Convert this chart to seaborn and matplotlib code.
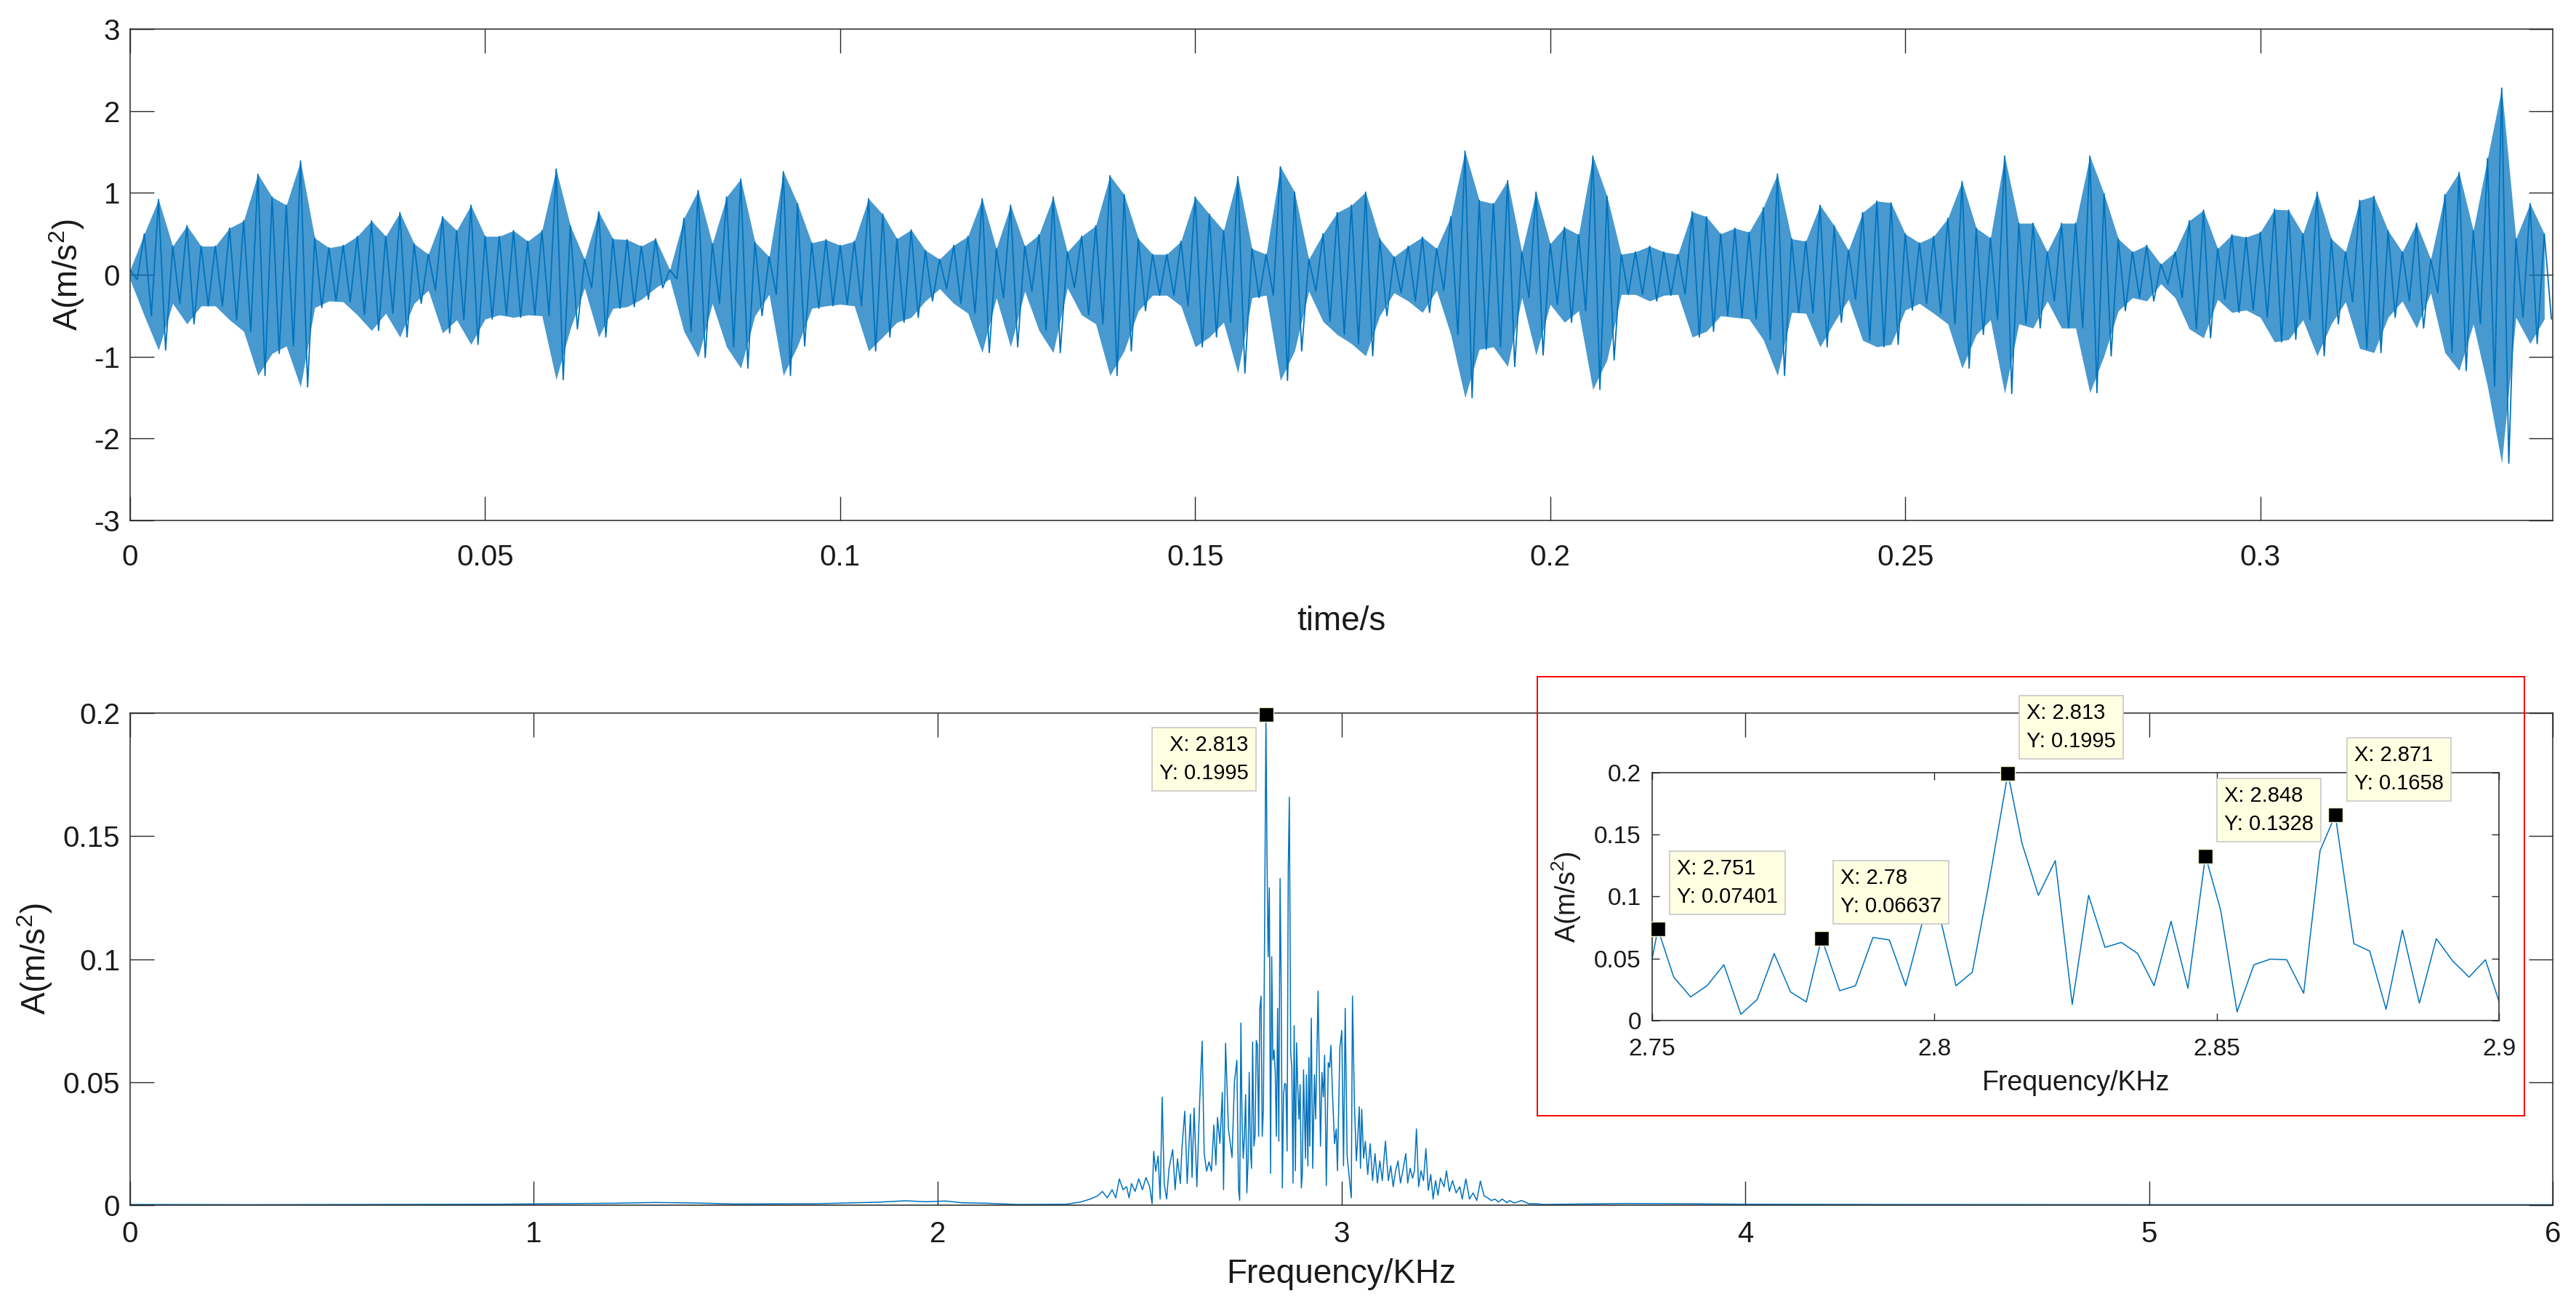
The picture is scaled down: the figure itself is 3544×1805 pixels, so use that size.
import numpy as np
import matplotlib
matplotlib.use('Agg')
import matplotlib.pyplot as plt
from matplotlib.patches import Rectangle
from matplotlib.ticker import FuncFormatter
import seaborn as sns

# ---- time signal: burst envelope read every 2 ms (upper and lower extremes, m/s^2)
time_s = np.arange(171) * 0.002
accel_upper = [
    0.06, 0.5, 0.92, 0.35, 0.6, 0.35, 0.35, 0.57, 0.66, 1.23, 0.95, 0.85, 1.39, 0.45, 0.33,
    0.36, 0.47, 0.66, 0.47, 0.76, 0.38, 0.25, 0.71, 0.54, 0.85, 0.47, 0.47, 0.54, 0.41, 0.54,
    1.29, 0.6, 0.19, 0.77, 0.44, 0.43, 0.35, 0.44, 0.06, 0.69, 1.03, 0.38, 0.95,
    1.17, 0.4, 0.22, 1.26, 0.87, 0.39, 0.43, 0.36, 0.41, 0.93, 0.74, 0.44, 0.55, 0.3, 0.19,
    0.36, 0.47, 0.93, 0.32, 0.85, 0.35, 0.49, 0.95, 0.28, 0.47, 0.6, 1.21, 0.98, 0.44, 0.25,
    0.25, 0.41, 0.95, 0.74, 0.54, 1.2, 0.32, 0.25, 1.32, 1.01, 0.19, 0.5, 0.76,
    0.85, 1.01, 0.44, 0.22, 0.35, 0.46, 0.32, 0.71, 1.51, 0.91, 0.87, 1.15, 0.28, 1.01, 0.38,
    0.58, 0.49, 1.45, 0.96, 0.25, 0.28, 0.35, 0.28, 0.25, 0.77, 0.71, 0.5, 0.57, 0.52, 0.82,
    1.23, 0.44, 0.41, 0.85, 0.6, 0.3, 0.76, 0.9, 0.88, 0.5, 0.39, 0.47, 0.69,
    1.14, 0.57, 0.45, 1.45, 0.63, 0.63, 0.28, 0.63, 0.63, 1.45, 0.99, 0.44, 0.28, 0.36, 0.13,
    0.28, 0.66, 0.79, 0.32, 0.49, 0.46, 0.52, 0.8, 0.79, 0.5, 1.01, 0.44, 0.28, 0.91, 0.96,
    0.54, 0.28, 0.63, 0.19, 0.98, 1.25, 0.54, 1.42, 2.28, 0.44, 0.87, 0.5,
]
accel_lower = [
    -0.06, -0.5, -0.92, -0.35, -0.6, -0.38, -0.38, -0.55, -0.69, -1.23, -0.96, -0.87, -1.37, -0.4, -0.32,
    -0.33, -0.49, -0.68, -0.47, -0.76, -0.35, -0.19, -0.71, -0.55, -0.85, -0.54, -0.49, -0.52, -0.49, -0.5,
    -1.28, -0.66, -0.16, -0.76, -0.41, -0.39, -0.3, -0.16, -0.05, -0.69, -1.01, -0.35, -0.88,
    -1.14, -0.5, -0.24, -1.23, -0.87, -0.41, -0.38, -0.36, -0.38, -0.93, -0.76, -0.58, -0.52, -0.32, -0.17,
    -0.35, -0.47, -0.95, -0.28, -0.88, -0.2, -0.68, -0.95, -0.16, -0.49, -0.6, -1.23, -0.93, -0.44, -0.25,
    -0.25, -0.38, -0.88, -0.76, -0.58, -1.2, -0.28, -0.25, -1.29, -0.93, -0.2, -0.57, -0.73,
    -0.84, -0.99, -0.5, -0.22, -0.32, -0.46, -0.19, -0.73, -1.5, -0.91, -0.88, -1.12, -0.28, -0.98, -0.36,
    -0.58, -0.44, -1.4, -1.04, -0.24, -0.24, -0.32, -0.25, -0.24, -0.76, -0.69, -0.5, -0.52, -0.54, -0.79,
    -1.23, -0.46, -0.47, -0.88, -0.58, -0.3, -0.8, -0.88, -0.85, -0.43, -0.35, -0.47, -0.6,
    -1.14, -0.73, -0.55, -1.45, -0.6, -0.65, -0.32, -0.65, -0.65, -1.44, -0.99, -0.44, -0.28, -0.32, -0.11,
    -0.28, -0.66, -0.77, -0.3, -0.46, -0.43, -0.52, -0.82, -0.79, -0.55, -0.99, -0.6, -0.33, -0.9, -0.95,
    -0.52, -0.32, -0.65, -0.22, -0.95, -1.17, -0.6, -1.36, -2.3, -0.52, -0.84, -0.54,
]

# ---- amplitude spectrum (kHz, m/s^2)
spec_freq = [
    0.0, 0.3, 0.6, 0.9, 1.2, 1.3, 1.4, 1.5, 1.7, 1.85, 1.92, 1.97, 2.02, 2.06, 2.12, 2.198,
    2.318, 2.354, 2.378, 2.396, 2.408, 2.420, 2.432, 2.441, 2.450, 2.459, 2.468, 2.474, 2.480,
    2.489, 2.498, 2.507, 2.516, 2.525, 2.531, 2.535, 2.540, 2.546, 2.551, 2.556, 2.561, 2.567,
    2.573, 2.582, 2.588, 2.594, 2.601, 2.605, 2.612, 2.618, 2.626, 2.630, 2.635, 2.642, 2.649,
    2.655, 2.660, 2.666, 2.672, 2.678, 2.684, 2.689, 2.693, 2.699, 2.705, 2.708, 2.713, 2.720,
    2.729, 2.735, 2.741, 2.745, 2.748,
    2.751, 2.7538, 2.7568, 2.7597, 2.7627, 2.7657, 2.7686, 2.7716, 2.7745, 2.7773, 2.780,
    2.7832, 2.7860, 2.7891, 2.7920, 2.7949, 2.7979, 2.8009, 2.8038, 2.8067, 2.8095, 2.813,
    2.8155, 2.8184, 2.8214, 2.8244, 2.8273, 2.8302, 2.8331, 2.8360, 2.8389, 2.8419, 2.8449,
    2.848, 2.8507, 2.8536, 2.8566, 2.8595, 2.8624, 2.8654, 2.8683, 2.871, 2.8743, 2.8771,
    2.8800, 2.8829, 2.8859, 2.8889, 2.8918, 2.8947, 2.8976, 2.9006,
    2.9031, 2.9061, 2.9109, 2.9133, 2.9169, 2.9193, 2.9217, 2.9253, 2.9289, 2.9331, 2.9361,
    2.9421, 2.9481, 2.9517, 2.9553, 2.9583, 2.9625, 2.9673, 2.9709, 2.9739, 2.9781, 2.9829,
    2.9871, 2.9901, 2.9961, 3.0009, 3.0051, 3.0093, 3.0141, 3.0243, 3.0273, 3.0321, 3.0369,
    3.0399, 3.0441, 3.0471, 3.0501, 3.0549, 3.0591, 3.0651, 3.0711, 3.0771, 3.0831, 3.0891,
    3.0951, 3.1011, 3.1089, 3.1161, 3.1221, 3.1281, 3.1341, 3.1401, 3.1461, 3.1521, 3.1593,
    3.1641, 3.1701, 3.1761, 3.1809, 3.1857, 3.1911, 3.1971, 3.2031, 3.2091, 3.2151, 3.2211,
    3.2271, 3.2331, 3.2391, 3.2451, 3.2541, 3.2601, 3.2673, 3.2751, 3.2841, 3.2931, 3.2991,
    3.3081, 3.3171, 3.3261, 3.3351, 3.3441, 3.3531, 3.3621, 3.3711, 3.3801, 3.3891, 3.3981,
    3.4101, 3.4161, 3.4281, 3.4461, 3.4641, 3.4821, 3.5001,
    3.6, 3.7, 3.85, 4.0, 4.3, 5.0, 6.0,
]
spec_amp = [
    0.0003, 0.0002, 0.0003, 0.0004, 0.0008, 0.0011, 0.0009, 0.0005, 0.0006, 0.0012, 0.0018, 0.0014,
    0.0017, 0.0010, 0.0008, 0.0003,
    0.0004, 0.0013, 0.0025, 0.0038, 0.0056, 0.003, 0.0063, 0.003, 0.0107, 0.0063, 0.0075, 0.003, 0.0088,
    0.0056, 0.0107, 0.0063, 0.0113, 0.0075, 0.0006, 0.0219, 0.0138, 0.020, 0.0025, 0.0439, 0.0088, 0.0025,
    0.015, 0.0226, 0.0063, 0.0188, 0.0088, 0.0232, 0.0382, 0.0088, 0.037, 0.0113, 0.0395, 0.0075, 0.0426,
    0.0667, 0.0213, 0.0138, 0.0176, 0.0138, 0.0326, 0.0163, 0.0357, 0.0251, 0.0458, 0.0063, 0.0658, 0.0313,
    0.0194, 0.0502, 0.0589, 0.0069, 0.002,
    0.07401, 0.035, 0.019, 0.028, 0.045, 0.005, 0.017, 0.054, 0.023, 0.015, 0.06637,
    0.024, 0.028, 0.067, 0.065, 0.028, 0.080, 0.085, 0.028, 0.039, 0.107, 0.1995,
    0.143, 0.101, 0.129, 0.013, 0.101, 0.059, 0.063, 0.054, 0.028, 0.080, 0.026,
    0.1328, 0.089, 0.007, 0.045, 0.0495, 0.049, 0.022, 0.137, 0.1658, 0.062, 0.056,
    0.009, 0.073, 0.014, 0.066, 0.048, 0.035, 0.049, 0.007,
    0.0125, 0.055, 0.019, 0.053, 0.016, 0.060, 0.024, 0.076, 0.015, 0.053, 0.035,
    0.087, 0.024, 0.054, 0.044, 0.061, 0.008, 0.058, 0.056, 0.065, 0.044, 0.025,
    0.031, 0.014, 0.064, 0.071, 0.016, 0.080, 0.020, 0.003, 0.085, 0.041, 0.018,
    0.026, 0.040, 0.015, 0.039, 0.019, 0.026, 0.0125, 0.025, 0.010, 0.021, 0.009,
    0.018, 0.010, 0.026, 0.010, 0.016, 0.0075, 0.014, 0.018, 0.009, 0.014, 0.021,
    0.009, 0.015, 0.011, 0.014, 0.031, 0.0075, 0.014, 0.010, 0.023, 0.006, 0.0125,
    0.0025, 0.010, 0.004, 0.011, 0.0075, 0.014, 0.0056, 0.010, 0.005, 0.0075, 0.0025,
    0.0107, 0.0025, 0.005, 0.0019, 0.0098, 0.0038, 0.003, 0.0019, 0.0025, 0.0013, 0.0025,
    0.001, 0.0019, 0.0009, 0.0019, 0.0006, 0.0006, 0.0003,
    0.0005, 0.0007, 0.0006, 0.0004, 0.0003, 0.0002, 0.0002,
]

# data tips shown in the figure
tip_freq = [2.751, 2.78, 2.813, 2.848, 2.871]
tip_amp = [0.07401, 0.06637, 0.1995, 0.1328, 0.1658]

LINE = '#0072BD'
INK = '#262626'

sns.set_theme(style='white')
plt.rcParams['font.family'] = ['Liberation Sans', 'DejaVu Sans']
plt.rcParams['mathtext.fontset'] = 'custom'
plt.rcParams['mathtext.rm'] = 'Liberation Sans'
plt.rcParams['mathtext.it'] = 'Liberation Sans:italic'

fmt = FuncFormatter(lambda v, p: f'{v:g}')


def matlab_axes(ax, size, tick_len, xpad, ypad):
    for s in ax.spines.values():
        s.set_visible(True)
        s.set_color(INK)
        s.set_linewidth(1.1)
    ax.tick_params(direction='in', length=tick_len, width=1.0, color=INK,
                   labelcolor='#1a1a1a', labelsize=size,
                   bottom=True, left=True, top=True, right=True)
    ax.tick_params(axis='x', pad=xpad)
    ax.tick_params(axis='y', pad=ypad)
    ax.xaxis.set_major_formatter(fmt)
    ax.yaxis.set_major_formatter(fmt)
    ax.grid(False)


def add_tip(ax, i, offset, ha):
    ax.annotate(f'X: {tip_freq[i]:g}\nY: {tip_amp[i]:.4g}', xy=(tip_freq[i], tip_amp[i]),
                xytext=offset, textcoords='offset pixels', ha=ha, va='center',
                fontsize=21, color='black', linespacing=1.5, zorder=10,
                annotation_clip=False,
                bbox=dict(boxstyle='square,pad=0.34', fc='#FFFFE1', ec='#c8c8c8', lw=1.2))
    ax.plot(tip_freq[i], tip_amp[i], 's', ms=14, mfc='black', mec='#f4f4c8', mew=1.0,
            clip_on=False, zorder=9)


fig = plt.figure(figsize=(35.44, 18.05), dpi=100)
ax_t = fig.add_axes([0.0505, 0.6033, 0.9405, 0.3745])
ax_b = fig.add_axes([0.0505, 0.0814, 0.9405, 0.3751])
ax_i = fig.add_axes([0.6414, 0.2222, 0.3287, 0.1889])

# ---- top: time waveform (envelope band + zigzag through the read extremes)
zig_t = np.empty(2 * len(time_s))
zig_a = np.empty(2 * len(time_s))
zig_t[0::2] = time_s
zig_t[1::2] = time_s + 0.001
zig_a[0::2] = accel_upper
zig_a[1::2] = accel_lower
ax_t.fill_between(time_s, accel_lower, accel_upper, color=LINE, alpha=0.72, lw=0)
sns.lineplot(x=zig_t, y=zig_a, ax=ax_t, color=LINE, lw=1.3, estimator=None, sort=False)
ax_t.set_xlim(0, 0.3412)
ax_t.set_ylim(-3, 3)
ax_t.set_xticks([0, 0.05, 0.1, 0.15, 0.2, 0.25, 0.3])
ax_t.set_yticks([-3, -2, -1, 0, 1, 2, 3])
matlab_axes(ax_t, 29, 24, 23, 10)
ax_t.set_xlabel('time/s', fontsize=33, color='#1a1a1a')
ax_t.set_ylabel('A(m/s$^{2}$)', fontsize=33, color='#1a1a1a')
ax_t.xaxis.set_label_coords(0.5, -0.1726)
ax_t.yaxis.set_label_coords(-0.018, 0.5)

# ---- bottom: spectrum
sns.lineplot(x=spec_freq, y=spec_amp, ax=ax_b, color=LINE, lw=1.1, estimator=None, sort=False)
ax_b.set_xlim(0, 6)
ax_b.set_ylim(0, 0.2)
ax_b.set_xticks([0, 1, 2, 3, 4, 5, 6])
ax_b.set_yticks([0, 0.05, 0.1, 0.15, 0.2])
matlab_axes(ax_b, 29, 24, 15, 10)
ax_b.set_xlabel('Frequency/KHz', fontsize=33, color='#1a1a1a')
ax_b.set_ylabel('A(m/s$^{2}$)', fontsize=33, color='#1a1a1a')
ax_b.xaxis.set_label_coords(0.5, -0.108)
ax_b.yaxis.set_label_coords(-0.0312, 0.5)
add_tip(ax_b, 2, (-24, -62), 'right')

# ---- inset: zoom on the peak band
sns.lineplot(x=spec_freq, y=spec_amp, ax=ax_i, color=LINE, lw=1.1, estimator=None, sort=False)
ax_i.set_xlim(2.75, 2.9)
ax_i.set_ylim(0, 0.2)
ax_i.set_xticks([2.75, 2.8, 2.85, 2.9])
ax_i.set_yticks([0, 0.05, 0.1, 0.15, 0.2])
matlab_axes(ax_i, 24, 7, 17, 11)
ax_i.set_xlabel('Frequency/KHz', fontsize=27, color='#1a1a1a')
ax_i.set_ylabel('A(m/s$^{2}$)', fontsize=27, color='#1a1a1a')
ax_i.xaxis.set_label_coords(0.5, -0.199)
ax_i.yaxis.set_label_coords(-0.0815, 0.5)
for i in range(len(tip_freq)):
    add_tip(ax_i, i, (26, 63), 'left')

fig.patches.append(Rectangle((0.5968, 0.1496), 0.3832, 0.3346, transform=fig.transFigure,
                             fill=False, edgecolor='red', lw=1.4, zorder=1))

fig.savefig('out.png', dpi=100, facecolor='white')
